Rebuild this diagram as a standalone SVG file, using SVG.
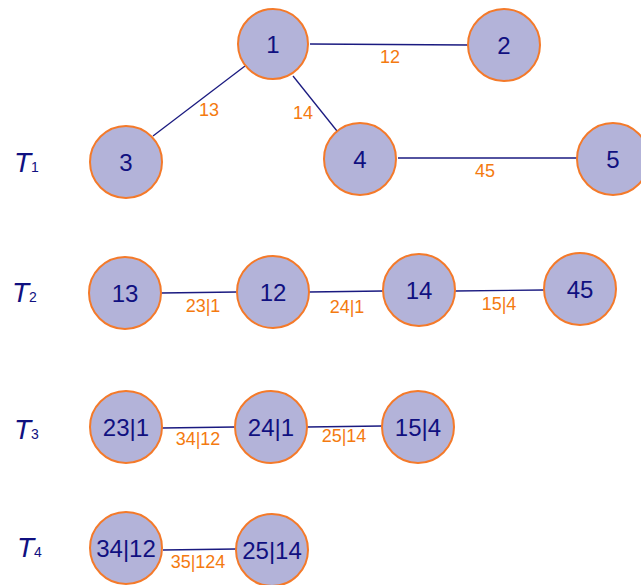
<svg xmlns="http://www.w3.org/2000/svg" width="641" height="585" viewBox="0 0 641 585">
<style>
.n circle{fill:#b3b3d9;stroke:#f47a2a;stroke-width:2}
.n text{font-family:"Liberation Sans",Arial,sans-serif;font-size:24px;fill:#101080;text-anchor:middle}
.e line{stroke:#1a1a80;stroke-width:1.3}
.el{font-family:"Liberation Sans",Arial,sans-serif;font-size:18px;fill:#f47a10;text-anchor:middle}
.t{font-family:"Liberation Sans",Arial,sans-serif;fill:#101080}
</style>
<rect width="641" height="585" fill="#ffffff"/>
<g id="connectors" class="e">
<line x1="310" y1="44" x2="468" y2="45"/>
<line x1="245" y1="66" x2="153" y2="136"/>
<line x1="293" y1="76" x2="337" y2="131"/>
<line x1="398" y1="158" x2="577" y2="158"/>
<line x1="161" y1="293" x2="237" y2="292"/>
<line x1="309" y1="292" x2="383" y2="291"/>
<line x1="455" y1="291" x2="544" y2="290"/>
<line x1="162" y1="428" x2="235" y2="427"/>
<line x1="307" y1="427" x2="382" y2="426"/>
<line x1="163" y1="550" x2="236" y2="549"/>
</g>
<g id="edge-labels">
<text class="el" x="390" y="63">12</text>
<text class="el" x="209" y="116">13</text>
<text class="el" x="303" y="119">14</text>
<text class="el" x="485" y="177">45</text>
<text class="el" x="203" y="312">23|1</text>
<text class="el" x="347" y="313">24|1</text>
<text class="el" x="499" y="310">15|4</text>
<text class="el" x="198" y="445">34|12</text>
<text class="el" x="344" y="442">25|14</text>
<text class="el" x="198" y="568">35|124</text>
</g>
<g id="row-labels">
<text class="t" x="14" y="172"><tspan font-size="28" font-style="italic">T</tspan><tspan font-size="14">1</tspan></text>
<text class="t" x="12" y="302"><tspan font-size="28" font-style="italic">T</tspan><tspan font-size="14">2</tspan></text>
<text class="t" x="14" y="439"><tspan font-size="28" font-style="italic">T</tspan><tspan font-size="14">3</tspan></text>
<text class="t" x="17" y="557"><tspan font-size="28" font-style="italic">T</tspan><tspan font-size="14">4</tspan></text>
</g>
<g id="n1" class="n"><circle cx="273" cy="44" r="35"/><text x="273" y="53">1</text></g>
<g id="n2" class="n"><circle cx="504" cy="45" r="36"/><text x="504" y="54">2</text></g>
<g id="n3" class="n"><circle cx="126" cy="162" r="36"/><text x="126" y="171">3</text></g>
<g id="n4" class="n"><circle cx="360" cy="159" r="36"/><text x="360" y="168">4</text></g>
<g id="n5" class="n"><circle cx="613" cy="159" r="36"/><text x="613" y="168">5</text></g>
<g id="n13" class="n"><circle cx="125" cy="293" r="36"/><text x="125" y="302">13</text></g>
<g id="n12" class="n"><circle cx="273" cy="292" r="36"/><text x="273" y="301">12</text></g>
<g id="n14" class="n"><circle cx="419" cy="290" r="36"/><text x="419" y="299">14</text></g>
<g id="n45" class="n"><circle cx="580" cy="289" r="36"/><text x="580" y="298">45</text></g>
<g id="n23-1" class="n"><circle cx="126" cy="427" r="36"/><text x="126" y="436">23|1</text></g>
<g id="n24-1" class="n"><circle cx="271" cy="427" r="36"/><text x="271" y="436">24|1</text></g>
<g id="n15-4" class="n"><circle cx="418" cy="427" r="36"/><text x="418" y="436">15|4</text></g>
<g id="n34-12" class="n"><circle cx="126" cy="548" r="36"/><text x="126" y="557">34|12</text></g>
<g id="n25-14" class="n"><circle cx="272" cy="550" r="36"/><text x="272" y="559">25|14</text></g>
</svg>
